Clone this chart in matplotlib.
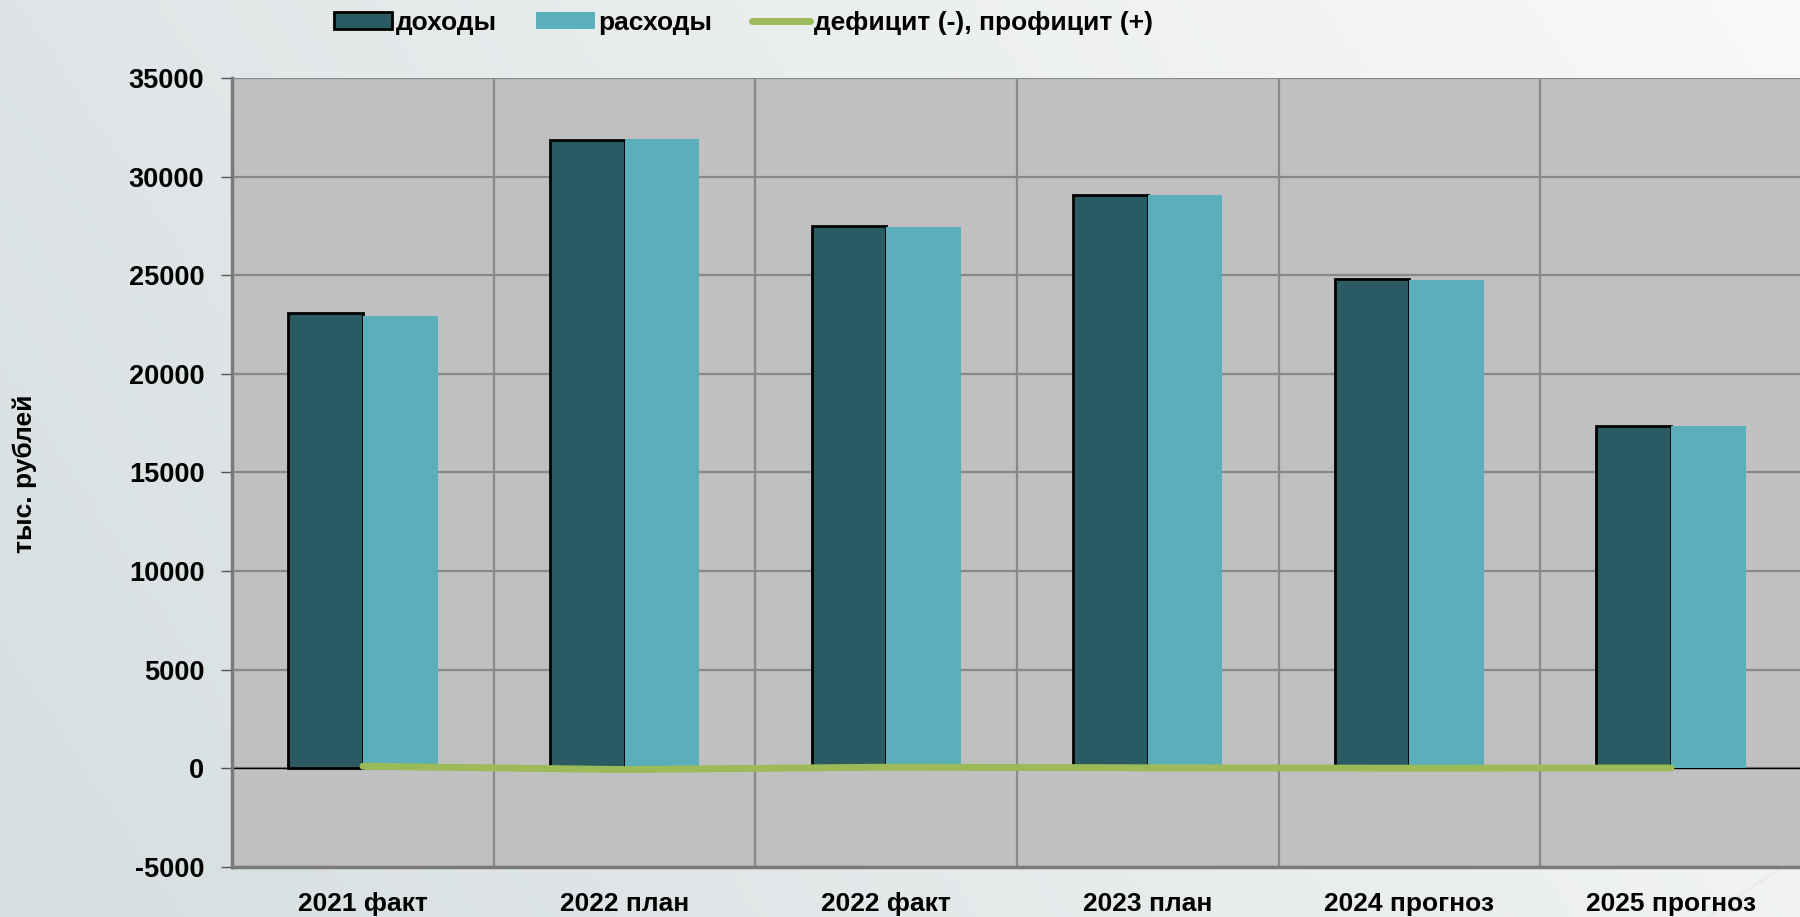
import numpy as np
import matplotlib
matplotlib.use('Agg')
import matplotlib.pyplot as plt
from matplotlib.patches import Patch
from matplotlib.lines import Line2D

plt.rcParams['axes.unicode_minus'] = False

# данные (тыс. рублей)
years = ['2021 факт', '2022 план', '2022 факт', '2023 план', '2024 прогноз', '2025 прогноз']
dohody = [23060, 31860, 27490, 29090, 24810, 17370]
rashody = [22950, 31900, 27430, 29060, 24780, 17340]
deficit = [110, -60, 60, 30, 10, 20]

dark = '#2A5B62'
light = '#5AAFBA'
green = '#9BBB59'

NARROW = ['Liberation Sans Narrow', 'Liberation Sans', 'DejaVu Sans']
BOLD = ['Liberation Sans', 'DejaVu Sans']

fig = plt.figure(figsize=(18, 9.17), dpi=100)

# фон слайда - лёгкий градиент
bg = fig.add_axes([0, 0, 1, 1], zorder=-10)
gx = np.linspace(0, 1, 300)
gy = np.linspace(0, 1, 150)
GX, GY = np.meshgrid(gx, gy)
t = np.clip(0.75 * GX + 0.25 * GY, 0, 1)
c0 = np.array([0xD6, 0xDE, 0xE0]) / 255
c1 = np.array([0xF9, 0xF9, 0xF9]) / 255
img = c0[None, None, :] * (1 - t[..., None]) + c1[None, None, :] * t[..., None]
bg.imshow(img, aspect='auto', extent=[0, 1, 0, 1], origin='lower')
bg.plot([0.949, 1.0], [0.0, 0.068], color='#E8E8E8', lw=1.2)
bg.set_xlim(0, 1)
bg.set_ylim(0, 1)
bg.axis('off')

ax = fig.add_axes([0.129, 0.0545, 0.872, 0.8605])
ax.set_facecolor('#C0C0C0')

x = np.arange(len(years))
w = 0.285
ax.bar(x - w / 2, dohody, w, color=dark, edgecolor='black', linewidth=2, zorder=3)
ax.bar(x + w / 2, rashody, w, color=light, linewidth=0, zorder=3)
ax.plot(x, deficit, color=green, lw=5, solid_capstyle='round', zorder=4)
ax.axhline(0, color='black', lw=1, zorder=2)

ax.set_xlim(-0.5, len(years) - 0.5)
ax.set_ylim(-5000, 35000)
ax.set_yticks(np.arange(-5000, 35001, 5000))
ax.set_xticks(x)
ax.set_xticklabels(years)
ax.set_xticks(np.arange(-0.5, len(years), 1), minor=True)

ax.grid(axis='y', color='#888888', lw=1.6, zorder=1)
ax.grid(axis='x', which='minor', color='#888888', lw=1.6, zorder=1)
ax.tick_params(axis='x', which='both', length=0, pad=18)
ax.tick_params(axis='y', length=8, width=1, color='#555555', pad=12)

for lab in ax.get_yticklabels():
    lab.set_fontfamily(BOLD)
    lab.set_fontweight('bold')
    lab.set_fontsize(19.5)
for lab in ax.get_xticklabels():
    lab.set_fontfamily(NARROW)
    lab.set_fontweight('bold')
    lab.set_fontsize(19)

for s in ['top', 'right']:
    ax.spines[s].set_visible(False)
ax.spines['left'].set_color('#7A7A7A')
ax.spines['left'].set_linewidth(2.5)
ax.spines['bottom'].set_color('#7A7A7A')
ax.spines['bottom'].set_linewidth(2.5)

fig.text(0.014, 0.483, 'тыс. рублей', rotation=90, ha='center', va='center',
         fontsize=19, fontweight='bold', family=NARROW)

handles = [Patch(facecolor=dark, edgecolor='black', linewidth=2),
           Patch(facecolor=light, linewidth=0),
           Line2D([], [], color=green, lw=5, solid_capstyle='round')]
labels = ['доходы', 'расходы', 'дефицит (-), профицит (+)']
fig.legend(handles, labels, loc='center', bbox_to_anchor=(0.413, 0.975), ncol=3,
           frameon=False, handlelength=2.2, handleheight=0.6, handletextpad=0.15,
           columnspacing=1.5, prop={'family': NARROW, 'weight': 'bold', 'size': 19})

fig.savefig('out.png', dpi=100)
